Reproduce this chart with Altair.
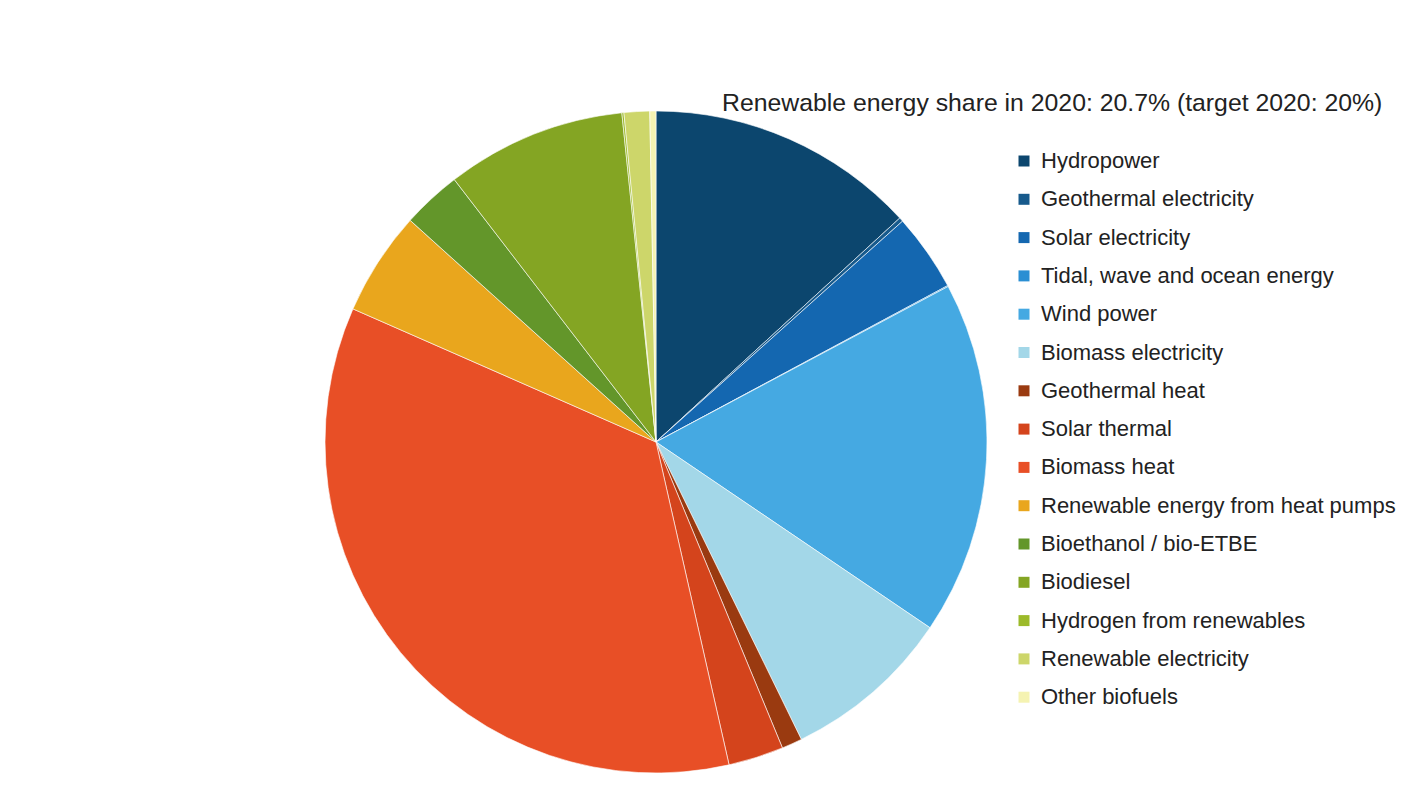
import altair as alt
import pandas as pd

categories = [
    "Hydropower", "Geothermal electricity", "Solar electricity",
    "Tidal, wave and ocean energy", "Wind power", "Biomass electricity",
    "Geothermal heat", "Solar thermal", "Biomass heat",
    "Renewable energy from heat pumps", "Bioethanol / bio-ETBE", "Biodiesel",
    "Hydrogen from renewables", "Renewable electricity", "Other biofuels",
]
shares = [13.2, 0.2, 3.8, 0.05, 17.3, 8.3, 1.0, 2.7, 35.2, 5.1, 2.9, 8.8, 0.1, 1.25, 0.3]
colors = [
    "#0c466e", "#175a8c", "#1467b0", "#2a8fd3", "#45a9e2", "#a3d7e8",
    "#9a3a10", "#d4441c", "#e84f26", "#e9a61d", "#63962a", "#84a523",
    "#9cba2a", "#cdd66a", "#f5f3b2",
]
title_text = ["Renewable energy share in 2020: 20.7% (target 2020: 20%)"]

df = pd.DataFrame({"category": categories, "share": shares, "idx": list(range(len(categories)))})
tdf = pd.DataFrame({"t": title_text})

pie = alt.Chart(df).mark_arc(radius=331, stroke="white", strokeWidth=0.6).encode(
    theta=alt.Theta("share:Q", stack=True),
    order=alt.Order("idx:Q", sort="ascending"),
    color=alt.Color(
        "category:N",
        scale=alt.Scale(domain=categories, range=colors),
        sort=categories,
        legend=alt.Legend(
            title=None, orient="none", legendX=1005, legendY=142,
            symbolType="square", symbolSize=121, symbolStrokeWidth=0,
            labelFontSize=22, labelFont="Liberation Sans", labelColor="#222222",
            labelOffset=6, rowPadding=16.3, labelLimit=600, padding=0, offset=0,
        ),
    ),
    x=alt.value(648),
    y=alt.value(434),
)

title = alt.Chart(tdf).mark_text(
    align="left", baseline="middle", fontSize=24.8, font="Liberation Sans", color="#222222"
).encode(text="t:N", x=alt.value(714), y=alt.value(96))

chart = alt.layer(pie, title).properties(
    width=1399, height=772, padding=0, background="white",
    autosize=alt.AutoSizeParams(type="none"),
).configure_view(stroke=None)

chart.save("out.html", embed_options={"renderer": "svg", "actions": False})
